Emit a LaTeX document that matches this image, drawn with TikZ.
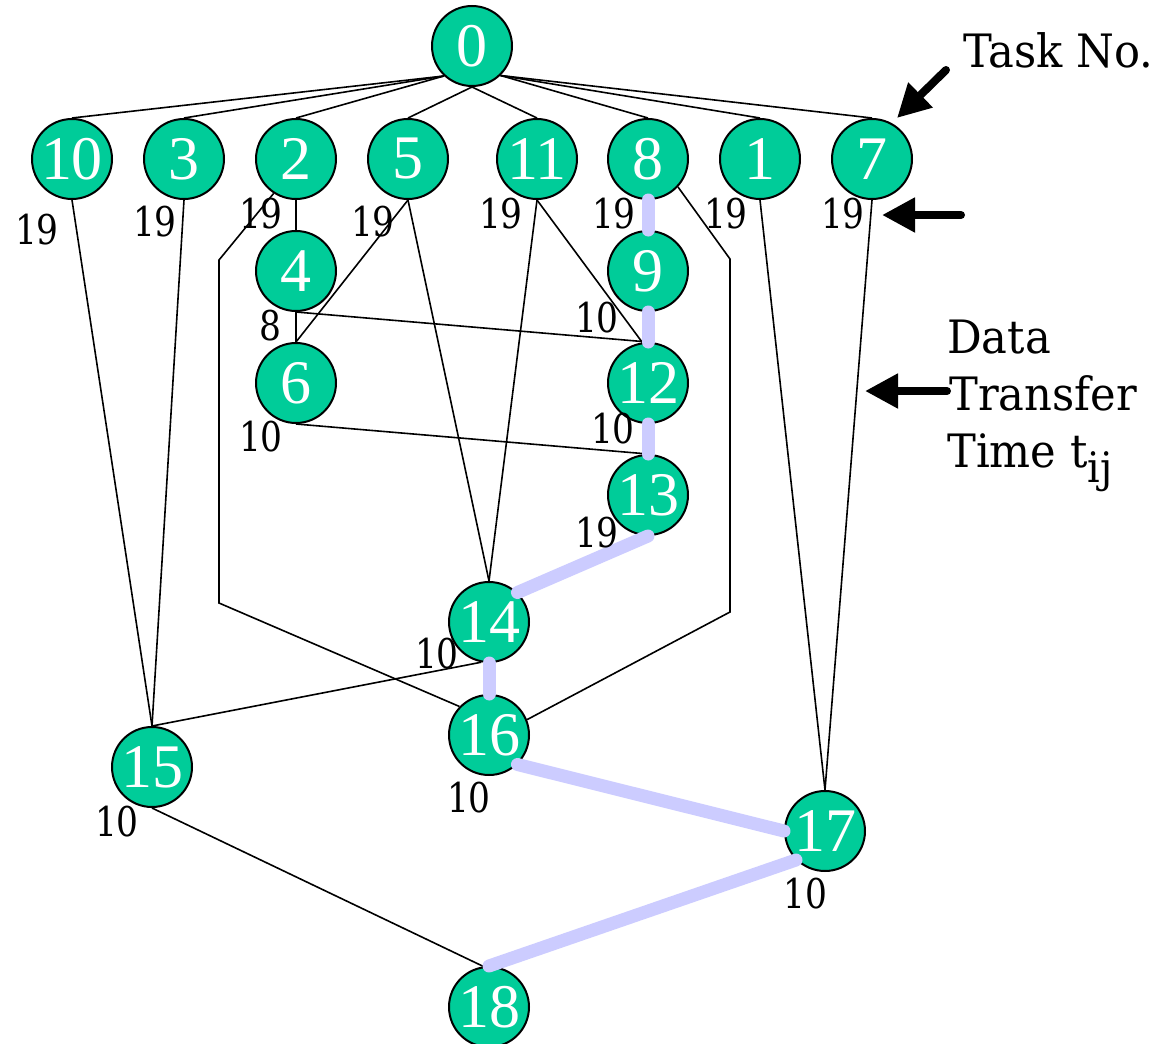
\documentclass[tikz,border=0pt]{standalone}
\usepackage{fontspec}
\setmainfont{Liberation Serif}
\newfontfamily\nodefont{Liberation Serif}
\newfontfamily\labfont[FakeStretch=0.84]{DejaVu Serif}
\newfontfamily\annfont[FakeStretch=0.94]{DejaVu Serif}
\usetikzlibrary{arrows.meta}
\definecolor{taskgreen}{RGB}{0,204,153}
\definecolor{critpath}{RGB}{204,204,255}
\begin{document}
\begin{tikzpicture}[x=1pt,y=-1pt,
  task/.style={circle, draw=black, line width=2pt, fill=taskgreen, minimum size=80pt, inner sep=0pt, text=white, font=\nodefont\fontsize{62}{62}\selectfont},
  edge/.style={line width=1.6pt},
  crit/.style={draw=critpath, line width=13pt, line cap=round},
  lab/.style={font=\labfont\fontsize{41}{41}\selectfont, inner sep=0pt},
  ann/.style={font=\annfont\fontsize{46}{46}\selectfont, inner sep=0pt, anchor=base west},
  pointer/.style={line width=8pt, line cap=round, -{Triangle[length=33pt,width=33pt]}}
]
\useasboundingbox[fill=white] (0,0) rectangle (1176,1044);

% nodes
\node[task] (n0)  at (472,46)  {0};
\node[task] (n10) at (72,159)  {10};
\node[task] (n3)  at (184,159) {3};
\node[task] (n2)  at (296,159) {2};
\node[task] (n5)  at (408,159) {5};
\node[task] (n11) at (537,159) {11};
\node[task] (n8)  at (648,159) {8};
\node[task] (n1)  at (760,159) {1};
\node[task] (n7)  at (872,159) {7};
\node[task] (n4)  at (296,271) {4};
\node[task] (n9)  at (648,271) {9};
\node[task] (n6)  at (296,383) {6};
\node[task] (n12) at (648,383) {12};
\node[task] (n13) at (648,495) {13};
\node[task] (n14) at (489,622) {14};
\node[task] (n16) at (489,735) {16};
\node[task] (n15) at (152,767) {15};
\node[task] (n17) at (825,831) {17};
\node[task] (n18) at (489,1007) {18};

% black edges
\draw[edge] (n0.227) -- (n10.north);
\draw[edge] (n0.227) -- (n3.north);
\draw[edge] (n0.227) -- (n2.north);
\draw[edge] (n0.south) -- (n5.north);
\draw[edge] (n0.south) -- (n11.north);
\draw[edge] (n0.314) -- (n8.north);
\draw[edge] (n0.314) -- (n1.north);
\draw[edge] (n0.314) -- (n7.north);
\draw[edge] (n10.south) -- (n15.north);
\draw[edge] (n3.south) -- (n15.north);
\draw[edge] (n2.south) -- (n4.north);
\draw[edge] (n2.237) -- (219,260) -- (219,603) -- (n16.136);
\draw[edge] (n4.south) -- (n6.north);
\draw[edge] (n4.south) -- (n12.north);
\draw[edge] (n5.south) -- (n6.north);
\draw[edge] (n5.south) -- (n14.north);
\draw[edge] (n11.south) -- (n14.north);
\draw[edge] (n11.south) -- (n12.98);
\draw[edge] (n6.south) -- (n13.north);
\draw[edge] (n8.317) -- (730,259) -- (730,612) -- (n16.22);
\draw[edge] (n14.259) -- (n15.north);
\draw[edge] (n1.south) -- (n17.north);
\draw[edge] (n7.south) -- (n17.north);
\draw[edge] (n15.south) -- (n18.98);

% critical path
\draw[crit] (n8.south) -- (n9.north);
\draw[crit] (n9.south) -- (n12.north);
\draw[crit] (n12.south) -- (n13.north);
\draw[crit] (n13.south) -- (n14.46);
\draw[crit] (n14.south) -- (n16.north);
\draw[crit] (n16.314) -- (n17.west);
\draw[crit] (n17.225) -- (n18.north);

% data transfer time labels
\node[lab] (t10) at (37,230)  {19};
\node[lab] (t3)  at (155,222) {19};
\node[lab] (t2)  at (261,214) {19};
\node[lab] (t5)  at (373,222) {19};
\node[lab] (t11) at (501,214) {19};
\node[lab] (t8)  at (614,214) {19};
\node[lab] (t1)  at (726,214) {19};
\node[lab] (t7)  at (843,214) {19};
\node[lab] (t4)  at (270,326) {8};
\node[lab] (t6)  at (261,437) {10};
\node[lab] (t9)  at (597,318) {10};
\node[lab] (t12) at (613,429) {10};
\node[lab] (t13) at (597,533) {19};
\node[lab] (t14) at (437,654) {10};
\node[lab] (t16) at (469,798) {10};
\node[lab] (t15) at (117,822) {10};
\node[lab] (t17) at (805,894) {10};

% annotations
\node[ann] (task) at (963,67) {Task No.};
\node[ann] (data) at (947,353) {Data};
\node[ann] (transfer) at (949,410) {Transfer};
\node[ann] (time) at (947,467) {Time t\raisebox{-15pt}{\fontsize{42}{42}\selectfont ij}};

\coordinate (p1t) at (946,70);
\coordinate (p1h) at (897,118);
\coordinate (p2t) at (961,215);
\coordinate (p2h) at (882,215);
\coordinate (p3t) at (947,391);
\coordinate (p3h) at (865,391);
\draw[pointer] (p1t) -- (p1h);
\draw[pointer] (p2t) -- (p2h);
\draw[pointer] (p3t) -- (p3h);
\end{tikzpicture}
\end{document}
